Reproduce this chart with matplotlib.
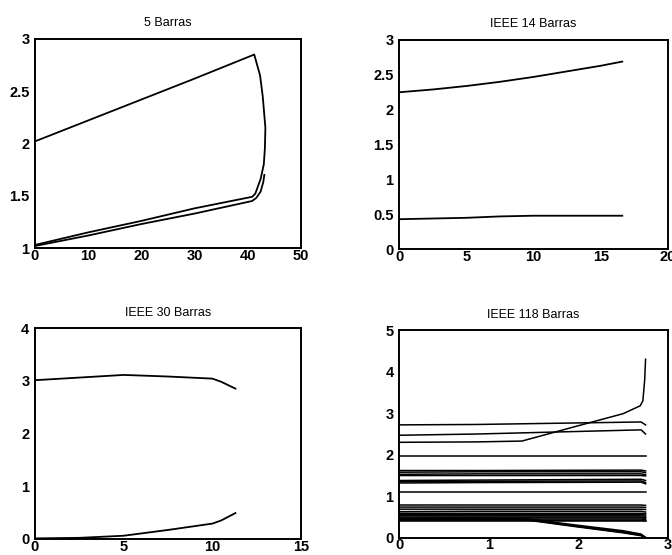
import matplotlib
matplotlib.use("Agg")
import matplotlib.pyplot as plt
from matplotlib.ticker import FuncFormatter

# 5 barras
p5_x_a = [0, 10, 20, 30, 41.2, 42.3, 42.8, 43.3, 43.2, 43.0, 42.4, 41.4, 40.8, 30, 20, 10, 0]
p5_y_a = [2.02, 2.22, 2.42, 2.62, 2.85, 2.65, 2.45, 2.15, 1.95, 1.80, 1.66, 1.52, 1.49, 1.38, 1.26, 1.15, 1.03]
p5_x_b = [0, 10, 20, 30, 40.8, 41.6, 42.4, 42.9, 43.1]
p5_y_b = [1.02, 1.12, 1.23, 1.33, 1.45, 1.48, 1.54, 1.63, 1.70]

# IEEE 14 barras
p14_x = [0, 2.5, 5, 7.5, 10, 12.5, 15, 16.6]
p14_sup = [2.25, 2.29, 2.34, 2.40, 2.47, 2.55, 2.63, 2.69]
p14_inf = [0.43, 0.44, 0.45, 0.47, 0.48, 0.48, 0.48, 0.48]

# IEEE 30 barras
p30_x = [0, 2.5, 5, 7.5, 10, 10.5, 11.3]
p30_sup = [3.01, 3.06, 3.11, 3.08, 3.04, 2.98, 2.85]
p30_inf = [0.01, 0.02, 0.06, 0.17, 0.29, 0.35, 0.49]

# IEEE 118 barras
p118_x = [0, 0.87, 2.70, 2.75]
p118_planas = [
    [2.72, 2.73, 2.79, 2.72],
    [2.47, 2.50, 2.60, 2.50],
    [1.98, 1.98, 1.98, 1.98],
    [1.62, 1.62, 1.63, 1.61],
    [1.58, 1.59, 1.59, 1.57],
    [1.53, 1.54, 1.54, 1.52],
    [1.50, 1.50, 1.50, 1.49],
    [1.38, 1.39, 1.41, 1.38],
    [1.35, 1.36, 1.37, 1.33],
    [1.32, 1.33, 1.34, 1.30],
    [1.11, 1.11, 1.11, 1.11],
    [0.79, 0.79, 0.79, 0.78],
    [0.74, 0.74, 0.74, 0.73],
    [0.69, 0.69, 0.69, 0.68],
    [0.63, 0.64, 0.64, 0.62],
    [0.59, 0.59, 0.59, 0.58],
    [0.56, 0.56, 0.56, 0.55],
    [0.53, 0.53, 0.53, 0.52],
    [0.50, 0.50, 0.50, 0.49],
    [0.47, 0.48, 0.48, 0.47],
    [0.45, 0.45, 0.45, 0.44],
    [0.42, 0.42, 0.42, 0.41],
    [0.40, 0.40, 0.40, 0.40],
]
p118_x_sube = [0, 0.87, 1.37, 2.0, 2.5, 2.69, 2.72, 2.74, 2.75]
p118_y_sube = [2.30, 2.31, 2.33, 2.70, 2.99, 3.18, 3.30, 3.80, 4.30]
p118_x_baja = [0, 0.87, 1.45, 2.0, 2.5, 2.70, 2.75]
p118_bajas = [
    [0.47, 0.47, 0.45, 0.30, 0.17, 0.09, 0.01],
    [0.46, 0.46, 0.44, 0.28, 0.15, 0.07, 0.01],
    [0.45, 0.45, 0.43, 0.27, 0.13, 0.06, 0.00],
    [0.44, 0.44, 0.42, 0.26, 0.12, 0.05, 0.00],
]

LW = 1.3


def fmt(v, pos):
    return "%g" % v


def estilo(ax, titulo, xlim, ylim, xticks, yticks):
    ax.set_xlim(xlim)
    ax.set_ylim(ylim)
    ax.set_xticks(xticks)
    ax.set_yticks(yticks)
    ax.xaxis.set_major_formatter(FuncFormatter(fmt))
    ax.yaxis.set_major_formatter(FuncFormatter(fmt))
    ax.tick_params(direction="in", length=0, labelsize=10.5)
    ax.tick_params(axis="x", pad=0.5)
    ax.tick_params(axis="y", pad=4)
    for lab in ax.get_xticklabels() + ax.get_yticklabels():
        lab.set_fontweight("bold")
    for s in ax.spines.values():
        s.set_linewidth(1.4)
    ax.set_title(titulo, fontsize=9, pad=9)


def main():
    plt.rcParams["font.family"] = ["Liberation Sans", "DejaVu Sans"]
    fig = plt.figure(figsize=(6.72, 5.55), dpi=100)

    ax1 = fig.add_axes([0.052, 0.553, 0.396, 0.377])
    ax1.plot(p5_x_a, p5_y_a, color="black", lw=LW)
    ax1.plot(p5_x_b, p5_y_b, color="black", lw=LW)
    estilo(ax1, "5 Barras", (0, 50), (1, 3), [0, 10, 20, 30, 40, 50], [1, 1.5, 2, 2.5, 3])

    ax2 = fig.add_axes([0.594, 0.551, 0.400, 0.377])
    ax2.plot(p14_x, p14_sup, color="black", lw=LW)
    ax2.plot(p14_x, p14_inf, color="black", lw=LW)
    estilo(ax2, "IEEE 14 Barras", (0, 20), (0, 3), [0, 5, 10, 15, 20], [0, 0.5, 1, 1.5, 2, 2.5, 3])

    ax3 = fig.add_axes([0.052, 0.029, 0.396, 0.380])
    ax3.plot(p30_x, p30_sup, color="black", lw=LW)
    ax3.plot(p30_x, p30_inf, color="black", lw=LW)
    estilo(ax3, "IEEE 30 Barras", (0, 15), (0, 4), [0, 5, 10, 15], [0, 1, 2, 3, 4])

    ax4 = fig.add_axes([0.594, 0.031, 0.400, 0.374])
    for ys in p118_planas:
        ax4.plot(p118_x, ys, color="black", lw=1.1)
    ax4.plot(p118_x_sube, p118_y_sube, color="black", lw=1.1)
    for ys in p118_bajas:
        ax4.plot(p118_x_baja, ys, color="black", lw=1.1)
    estilo(ax4, "IEEE 118 Barras", (0, 3), (0, 5), [0, 1, 2, 3], [0, 1, 2, 3, 4, 5])

    fig.savefig("out.png", dpi=100)


if __name__ == "__main__":
    main()
